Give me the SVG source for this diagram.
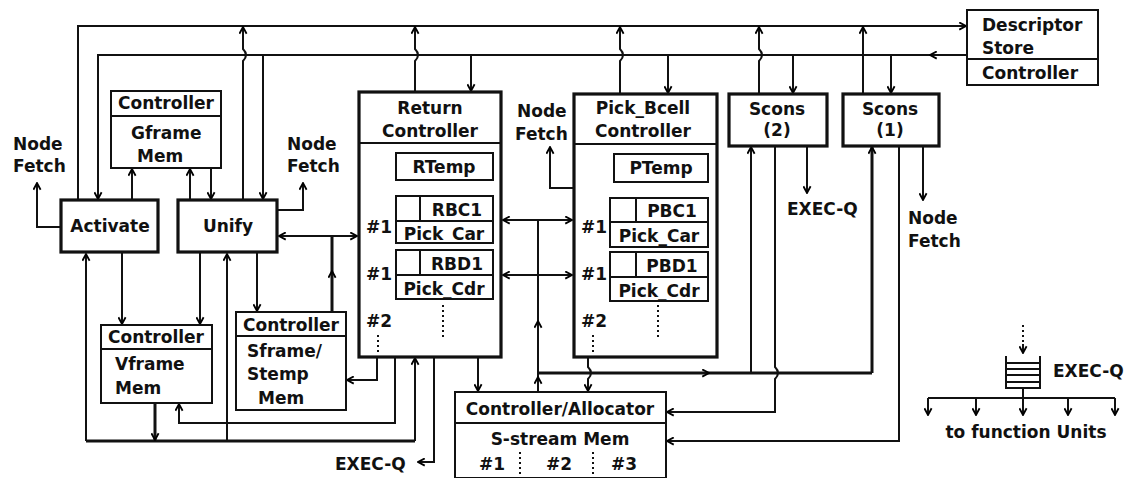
<svg xmlns="http://www.w3.org/2000/svg" width="1127" height="478" viewBox="0 0 1127 478">
<defs>
<marker id="ah" viewBox="0 0 10 10" refX="9" refY="5" markerWidth="9" markerHeight="9" markerUnits="userSpaceOnUse" orient="auto-start-reverse">
<path d="M1.5,1 L9,5 L1.5,9" fill="none" stroke="#000" stroke-width="2"/>
</marker>
</defs>
<style>
text{font-family:"DejaVu Sans","Liberation Sans",sans-serif;font-weight:bold;font-size:17px;fill:#111}
.c{text-anchor:middle}
.bx{fill:#fff;stroke:#111;stroke-width:2}
.tb{fill:#fff;stroke:#111;stroke-width:3.2}
.ln{fill:none;stroke:#111;stroke-width:2}
.tk{fill:none;stroke:#111;stroke-width:3}
.a{marker-end:url(#ah)}
.d{marker-start:url(#ah);marker-end:url(#ah)}
.dt{fill:none;stroke:#111;stroke-width:2;stroke-dasharray:2 3}
</style>
<rect width="1127" height="478" fill="#fff"/>

<g id="connectors">
<path class="ln a" d="M78,199 V26 H966"/>
<path class="ln a" d="M966,55 H98 V199"/>
<path class="ln a" d="M938,55 H930"/>
<path class="ln a" d="M243,199 V61 q6,-6 0,-12 V27"/>
<path class="ln a" d="M415,91 V61 q6,-6 0,-12 V27"/>
<path class="ln a" d="M620,93 V61 q6,-6 0,-12 V27"/>
<path class="ln a" d="M759,93 V61 q6,-6 0,-12 V27"/>
<path class="ln a" d="M863,93 V27"/>
<path class="ln a" d="M263,55 V199"/>
<path class="ln a" d="M471,55 V91"/>
<path class="ln a" d="M668,55 V93"/>
<path class="ln a" d="M793,55 V93"/>
<path class="ln a" d="M891,55 V93"/>
<path class="ln a" d="M132,199 V169"/>
<path class="ln a" d="M190,199 V169"/>
<path class="ln a" d="M211,169 V199"/>
<path class="ln a" d="M61,227 H37 V183"/>
<path class="ln a" d="M278,210 H303 V183"/>
<path class="ln a" d="M574,188 H550 V147"/>
<path class="ln d" d="M279,236 H357"/>
<path class="tk" d="M332,311 V236"/>
<path class="ln a" d="M332,280 V271"/>
<path class="ln a" d="M122,253 V324"/>
<path class="ln a" d="M200,253 V324"/>
<path class="ln a" d="M257,253 V311"/>
<path class="tk" d="M86,441 H415"/>
<path class="ln a" d="M86,441 V254"/>
<path class="ln a" d="M227,441 V254"/>
<path class="ln a" d="M415,441 V358"/>
<path class="tk a" d="M155,403 V440"/>
<path class="ln a" d="M377,357 V380 H347"/>
<path class="ln a" d="M395,357 V423 H179 V404"/>
<path class="ln a" d="M434,357 V462 H418"/>
<path class="ln a" d="M478,357 V391"/>
<path class="ln d" d="M503,220 H572"/>
<path class="ln d" d="M503,275 H572"/>
<path class="ln" d="M538,391 V220"/>
<path class="ln a" d="M538,330 V321"/>
<path class="ln a" d="M538,386 V377"/>
<path class="tk" d="M538,373 H872"/>
<path class="ln a" d="M700,373 H709"/>
<path class="ln a" d="M751,373 V147"/>
<path class="tk a" d="M872,373 V147"/>
<path class="ln a" d="M588,357 V367 q6,6 0,12 V391"/>
<path class="ln a" d="M775,147 V367 q6,6 0,12 V412 H667"/>
<path class="ln a" d="M899,147 V441 H667"/>
<path class="ln a" d="M807,147 V193"/>
<path class="ln a" d="M923,147 V200"/>
<path class="dt" d="M1023,325 V347"/>
<path class="ln a" d="M1023,344 V353"/>
<path class="ln" d="M1023,388 V398 M928,398 H1115"/>
<path class="ln a" d="M928,398 V415"/>
<path class="ln a" d="M976,398 V415"/>
<path class="ln a" d="M1023,398 V415"/>
<path class="ln a" d="M1068,398 V415"/>
<path class="ln a" d="M1115,398 V415"/>
</g>

<g id="descriptor-store">
<rect class="bx" x="967" y="10" width="131" height="75"/>
<path class="ln" d="M967,59 H1098"/>
<text x="982" y="31">Descriptor</text>
<text x="982" y="54">Store</text>
<text x="982" y="79">Controller</text>
</g>

<g id="gframe">
<rect class="bx" x="111" y="91" width="110" height="77"/>
<path class="ln" d="M111,116 H221"/>
<text class="c" x="166" y="109">Controller</text>
<text x="131" y="139">Gframe</text>
<text x="137" y="162">Mem</text>
</g>

<g id="activate">
<rect class="tb" x="61" y="200" width="97" height="52"/>
<text class="c" x="110" y="232">Activate</text>
</g>

<g id="unify">
<rect class="tb" x="178" y="200" width="99" height="52"/>
<text class="c" x="228" y="232">Unify</text>
</g>

<g id="node-fetch-labels">
<text x="13" y="150">Node</text>
<text x="13" y="172">Fetch</text>
<text x="287" y="150">Node</text>
<text x="287" y="172">Fetch</text>
<text x="517" y="117">Node</text>
<text x="515" y="140">Fetch</text>
<text x="908" y="224">Node</text>
<text x="908" y="247">Fetch</text>
</g>

<g id="return-controller">
<rect class="tb" x="359" y="92" width="142" height="265"/>
<path class="ln" d="M359,143 H501"/>
<text class="c" x="430" y="114">Return</text>
<text class="c" x="430" y="137">Controller</text>
<rect class="bx" x="396" y="153" width="97" height="27"/>
<text class="c" x="444" y="173">RTemp</text>
<rect class="bx" x="396" y="196" width="97" height="47"/>
<path class="ln" d="M396,221 H493 M420,196 V221"/>
<text class="c" x="457" y="216">RBC1</text>
<text class="c" x="444" y="240">Pick_Car</text>
<rect class="bx" x="396" y="250" width="97" height="49"/>
<path class="ln" d="M396,275 H493 M420,250 V275"/>
<text class="c" x="457" y="270">RBD1</text>
<text class="c" x="444" y="295">Pick_Cdr</text>
<text x="366" y="233">#1</text>
<text x="366" y="280">#1</text>
<text x="366" y="327">#2</text>
<path class="dt" d="M443,305 V340 M378,335 V352"/>
</g>

<g id="pick-bcell-controller">
<rect class="tb" x="574" y="94" width="143" height="263"/>
<path class="ln" d="M574,144 H717"/>
<text class="c" x="643" y="114">Pick_Bcell</text>
<text class="c" x="643" y="137">Controller</text>
<rect class="bx" x="614" y="154" width="94" height="28"/>
<text class="c" x="661" y="174">PTemp</text>
<rect class="bx" x="610" y="198" width="98" height="49"/>
<path class="ln" d="M610,222 H708 M636,198 V222"/>
<text class="c" x="672" y="217">PBC1</text>
<text class="c" x="659" y="242">Pick_Car</text>
<rect class="bx" x="610" y="252" width="98" height="49"/>
<path class="ln" d="M610,277 H708 M636,252 V277"/>
<text class="c" x="672" y="272">PBD1</text>
<text class="c" x="659" y="297">Pick_Cdr</text>
<text x="581" y="233">#1</text>
<text x="581" y="280">#1</text>
<text x="581" y="327">#2</text>
<path class="dt" d="M658,305 V340 M593,335 V352"/>
</g>

<g id="scons2">
<rect class="tb" x="729" y="94" width="98" height="52"/>
<text class="c" x="777" y="115">Scons</text>
<text class="c" x="777" y="136">(2)</text>
<text x="787" y="215">EXEC-Q</text>
</g>

<g id="scons1">
<rect class="tb" x="843" y="94" width="96" height="52"/>
<text class="c" x="890" y="115">Scons</text>
<text class="c" x="890" y="136">(1)</text>
</g>

<g id="vframe">
<rect class="bx" x="101" y="325" width="111" height="78"/>
<path class="ln" d="M101,349 H212"/>
<text class="c" x="156" y="343">Controller</text>
<text x="115" y="370">Vframe</text>
<text x="115" y="394">Mem</text>
</g>

<g id="sframe">
<rect class="bx" x="236" y="312" width="110" height="98"/>
<path class="ln" d="M236,336 H346"/>
<text class="c" x="291" y="331">Controller</text>
<text x="247" y="357">Sframe/</text>
<text x="247" y="380">Stemp</text>
<text x="258" y="404">Mem</text>
</g>

<g id="exec-q-return">
<text x="335" y="470">EXEC-Q</text>
</g>

<g id="allocator">
<rect class="bx" x="455" y="392" width="211" height="86"/>
<path class="ln" d="M455,423 H666"/>
<text class="c" x="560" y="415">Controller/Allocator</text>
<text class="c" x="560" y="445">S-stream Mem</text>
<text x="479" y="470">#1</text>
<text x="546" y="470">#2</text>
<text x="611" y="470">#3</text>
<path class="dt" d="M520,452 V477 M593,452 V477"/>
</g>

<g id="exec-q-legend">
<path class="ln" d="M1006,356 V388 H1040 V356 M1006,363 H1040 M1006,369 H1040 M1006,375 H1040 M1006,382 H1040"/>
<text x="1053" y="377">EXEC-Q</text>
<text class="c" x="1026" y="438">to function Units</text>
</g>
</svg>
